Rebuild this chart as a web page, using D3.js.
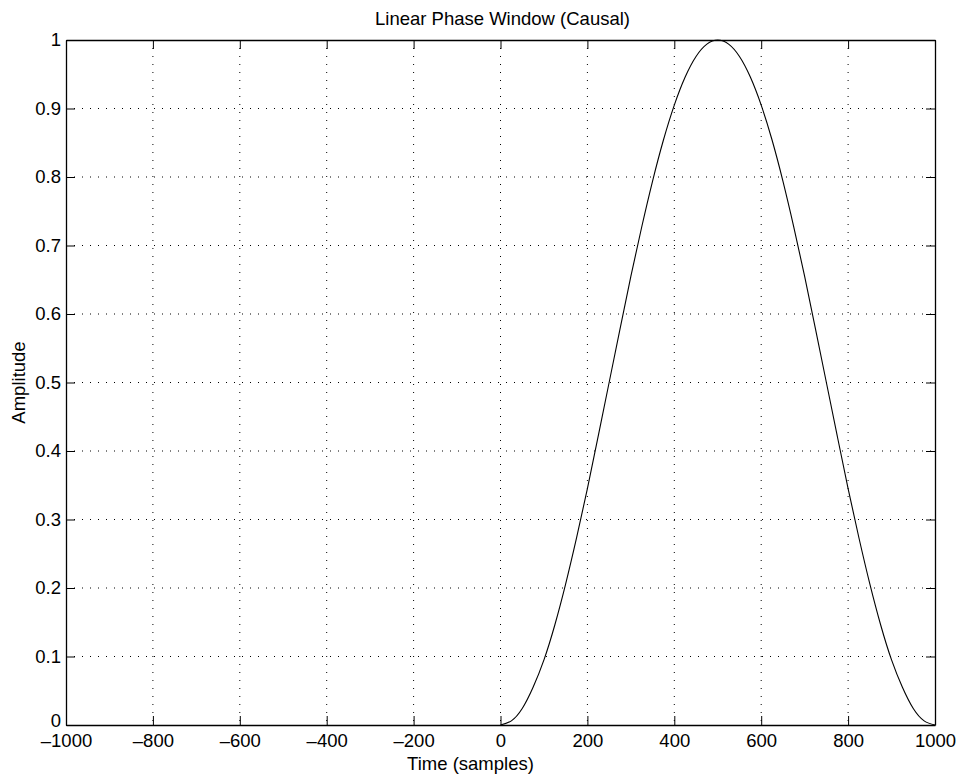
<!DOCTYPE html>
<html lang="en">
<head>
<meta charset="UTF-8" />
<title>Linear Phase Window (Causal)</title>
<script src="https://d3js.org/d3.v7.min.js"></script>
<style>
  body { margin: 0; padding: 0; background: #fff; }
  svg { font-family: "Liberation Sans", Arial, Helvetica, sans-serif; }
  .grid line { stroke: #000; stroke-dasharray: 1,7; stroke-width: 1; }
</style>
</head>
<body>
<svg width="959" height="776"></svg>
<script>
  // samples (every 25 samples)
  const timeSamples = [0, 25, 50, 75, 100, 125, 150, 175, 200, 225, 250, 275, 300, 325, 350, 375, 400,
                       425, 450, 475, 500, 525, 550, 575, 600, 625, 650, 675, 700, 725, 750, 775, 800,
                       825, 850, 875, 900, 925, 950, 975, 1000];
  const amplitude = [0, 0.006, 0.024, 0.055, 0.095, 0.146, 0.206, 0.273, 0.345, 0.422, 0.5, 0.578, 0.655,
                     0.727, 0.794, 0.854, 0.905, 0.946, 0.976, 0.994, 1, 0.994, 0.976, 0.946, 0.905,
                     0.854, 0.794, 0.727, 0.655, 0.578, 0.5, 0.422, 0.345, 0.273, 0.206, 0.146, 0.095,
                     0.055, 0.024, 0.006, 0];
  const xTicks = [-1000, -800, -600, -400, -200, 0, 200, 400, 600, 800, 1000];
  const yTicks = [0, 0.1, 0.2, 0.3, 0.4, 0.5, 0.6, 0.7, 0.8, 0.9, 1];

  const margin = { top: 40, right: 24, bottom: 51, left: 66 };
  const width = 959, height = 776;
  const w = width - margin.left - margin.right;
  const h = height - margin.top - margin.bottom;
  const fontSize = "18.5px";

  const svg = d3.select("svg");
  const g = svg.append("g").attr("transform", `translate(${margin.left},${margin.top})`);

  const x = d3.scaleLinear().domain([-1000, 1000]).range([0, w]);
  const y = d3.scaleLinear().domain([0, 1]).range([h, 0]);

  const fmt = d => (d < 0 ? "\u2013" + Math.abs(d) : String(d));

  // grid
  const grid = g.append("g").attr("class", "grid");
  grid.selectAll(".vx").data(xTicks.slice(1, -1)).enter().append("line")
    .attr("x1", d => x(d)).attr("x2", d => x(d)).attr("y1", 0).attr("y2", h);
  grid.selectAll(".hy").data(yTicks.slice(1, -1)).enter().append("line")
    .attr("y1", d => y(d)).attr("y2", d => y(d)).attr("x1", 0).attr("x2", w);

  // axes, ticks inward on all four sides
  const tl = 9;
  g.append("g").attr("transform", `translate(0,${h})`)
    .call(d3.axisBottom(x).tickValues(xTicks).tickFormat(fmt).tickSizeInner(-tl).tickSizeOuter(0).tickPadding(9));
  g.append("g")
    .call(d3.axisTop(x).tickValues(xTicks).tickFormat("").tickSizeInner(-tl).tickSizeOuter(0));
  const yAxis = g.append("g")
    .call(d3.axisLeft(y).tickValues(yTicks).tickFormat(d3.format("~g")).tickSizeInner(-tl).tickSizeOuter(0).tickPadding(5));
  g.append("g").attr("transform", `translate(${w},0)`)
    .call(d3.axisRight(y).tickValues(yTicks).tickFormat("").tickSizeInner(-tl).tickSizeOuter(0));

  g.selectAll(".domain").attr("stroke", "#000").attr("stroke-width", 1.3);
  g.selectAll(".tick line").attr("stroke", "#000");
  g.selectAll(".tick text").attr("fill", "#000").style("font-size", fontSize);
  // the "0" label sits just above the x tick labels
  yAxis.selectAll(".tick text").filter(d => d === 0).attr("dy", "0.1em");

  // curve
  const pts = timeSamples.map((t, i) => [t, amplitude[i]]);
  g.append("path")
    .datum(pts)
    .attr("fill", "none")
    .attr("stroke", "#000")
    .attr("stroke-width", 1.1)
    .attr("d", d3.line().x(d => x(d[0])).y(d => y(d[1])).curve(d3.curveNatural));

  // labels
  svg.append("text").attr("x", margin.left + w / 2 + 2).attr("y", 25)
    .attr("text-anchor", "middle").style("font-size", fontSize).text("Linear Phase Window (Causal)");
  svg.append("text").attr("x", margin.left + w / 2 - 30).attr("y", 770)
    .attr("text-anchor", "middle").style("font-size", fontSize).text("Time (samples)");
  svg.append("text").attr("transform", `translate(25,${margin.top + h / 2}) rotate(-90)`)
    .attr("text-anchor", "middle").style("font-size", fontSize).text("Amplitude");
</script>
</body>
</html>
